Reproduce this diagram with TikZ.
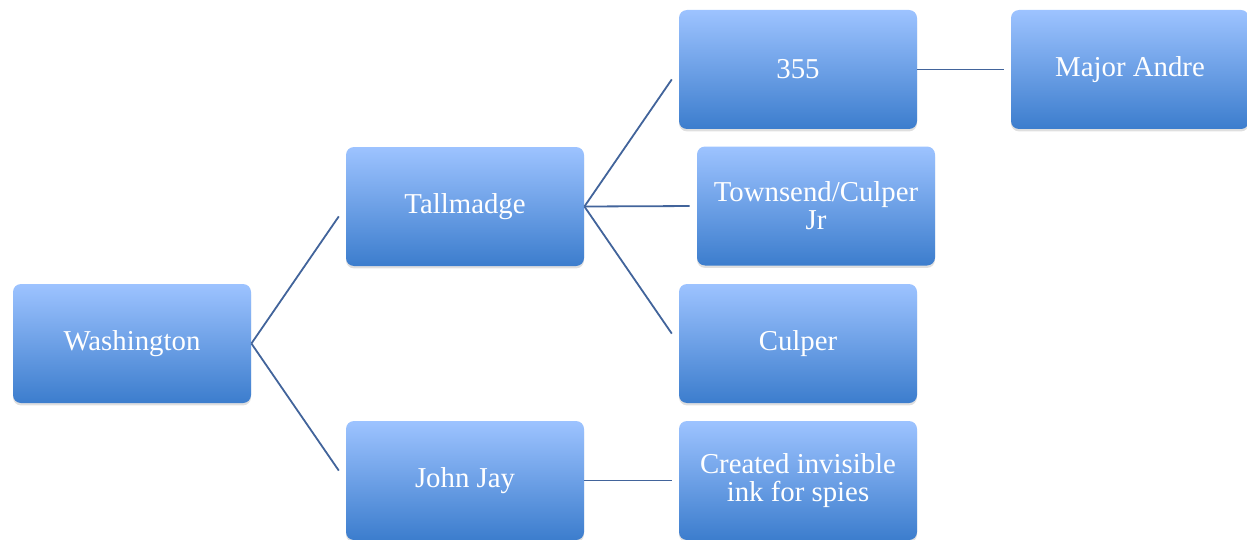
\documentclass[tikz,border=0pt]{standalone}
\usepackage{fontspec}
\setmainfont{Liberation Serif}
\usetikzlibrary{shadows}
\definecolor{boxtop}{RGB}{157,195,255}
\definecolor{boxbot}{RGB}{60,125,205}
\definecolor{linkblue}{RGB}{66,100,155}
\begin{document}
\begin{tikzpicture}[x=0.5pt, y=-0.5pt,
  box/.style={rounded corners=4pt, minimum width=119pt, minimum height=59.5pt, inner sep=2pt,
    top color=boxtop, bottom color=boxbot, text=white, align=center, font=\fontsize{14.4}{14}\selectfont,
    drop shadow={opacity=0.25, shadow xshift=0pt, shadow yshift=-1.2pt}},
  link/.style={draw=linkblue, line width=0.9pt, shorten >=3.5pt},
  slant/.style={link, shorten >=6pt}]
\useasboundingbox (0,0) rectangle (1247,540);
\node[box] (nid0) at (132,343.5){Washington};
\node[box] (nid1) at (465,206.5){Tallmadge};
\node[box] (nid2) at (465,480.5){John Jay};
\node[box] (nid3) at (798,69.5){355};
\node[box] (nid4) at (816,206){Townsend/Culper\\Jr};
\node[box] (nid5) at (798,343.5){Culper};
\node[box] (nid6) at (798,480.5){Created invisible\\ink for spies};
\node[box] (nid7) at (1130,69.5){Major Andre};
\draw[slant](nid0.east) -- (nid1.west);
\draw[slant](nid0.east) -- (nid2.west);
\draw[slant](nid1.east) -- (nid3.west);
\draw[link](nid1.east) -- (nid4.west);
\draw[slant](nid1.east) -- (nid5.west);
\draw[link](nid2.east) -- (nid6.west);
\draw[link](nid3.east) -- (nid7.west);

\end{tikzpicture}
\end{document}
